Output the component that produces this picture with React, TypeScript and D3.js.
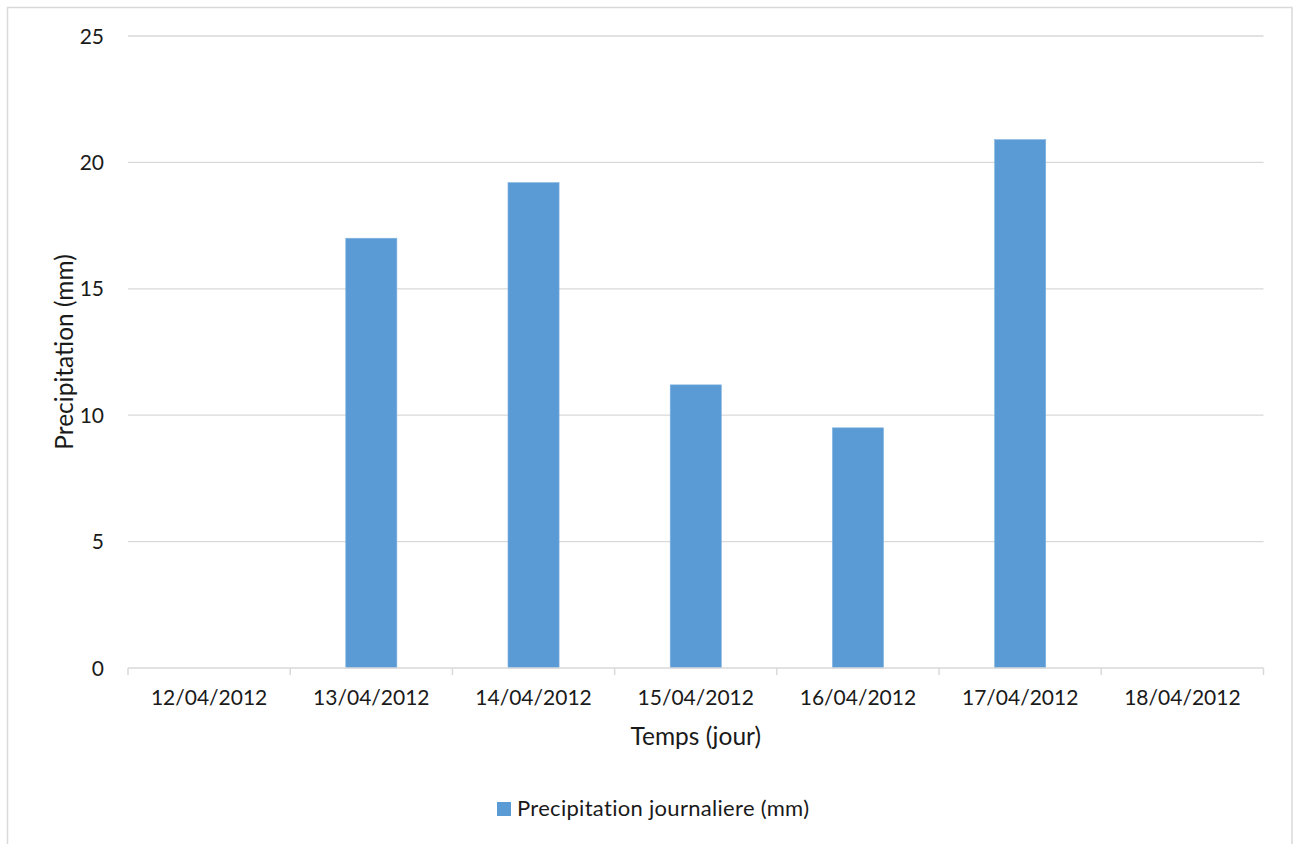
import React from "react";
import * as d3 from "d3";

const days = ["12/04/2012", "13/04/2012", "14/04/2012", "15/04/2012", "16/04/2012", "17/04/2012", "18/04/2012"];
const rainfall = [0, 17, 19.2, 11.2, 9.5, 20.9, 0];
const yTicks = [0, 5, 10, 15, 20, 25];
const seriesName = "Precipitation journaliere (mm)";

const W = 1298;
const H = 844;
const FONT = "Lato, 'Open Sans', sans-serif";
const GRID = "#d9d9d9";
const BAR = "#5b9bd5";
const TEXT = "#1a1a1a";

export default function App() {
  const left = 128;
  const right = 1263.5;
  const top = 36;
  const bottom = 668;

  const x = d3.scaleBand<string>().domain(days).range([left, right]).paddingInner(0).paddingOuter(0);
  const y = d3.scaleLinear().domain([0, 25]).range([bottom, top]);
  const barW = x.bandwidth() * 0.315;

  const boundaries = days.map((d) => x(d) as number).concat([right]);

  return (
    <svg
      width={W}
      height={H}
      style={{ position: "absolute", left: 0, top: 0, background: "#fff" }}
      fontFamily={FONT}
    >
      <rect x={7.5} y={7.5} width={1284.5} height={H + 10} fill="#fff" stroke={GRID} strokeWidth={1.5} />

      {yTicks.map((t) => (
        <g key={t}>
          {t > 0 && <line x1={left} x2={right} y1={y(t)} y2={y(t)} stroke={GRID} strokeWidth={1.3} />}
          <text x={104} y={y(t) + 7.5} textAnchor="end" fontSize={21} fill={TEXT}>
            {t}
          </text>
        </g>
      ))}

      {days.map((d, i) => {
        const v = rainfall[i];
        if (v <= 0) return null;
        const cx = (x(d) as number) + x.bandwidth() / 2;
        return (
          <rect
            key={d}
            x={cx - barW / 2}
            y={y(v)}
            width={barW}
            height={y(0) - y(v)}
            fill={BAR}
            stroke="#7fb1e0"
            strokeWidth={0.6}
          />
        );
      })}

      <line x1={left} x2={right} y1={bottom} y2={bottom} stroke={GRID} strokeWidth={1.5} />
      {boundaries.map((bx, i) => (
        <line key={i} x1={bx} x2={bx} y1={bottom} y2={bottom + 7} stroke={GRID} strokeWidth={1.5} />
      ))}

      {days.map((d) => (
        <text
          key={d}
          x={(x(d) as number) + x.bandwidth() / 2}
          y={705}
          textAnchor="middle"
          fontSize={21}
          fill={TEXT}
        >
          {d}
        </text>
      ))}

      <text x={(left + right) / 2} y={745} textAnchor="middle" fontSize={24.5} fill={TEXT}>
        Temps (jour)
      </text>
      <text
        transform={`translate(73, ${(top + bottom) / 2}) rotate(-90)`}
        textAnchor="middle"
        fontSize={24.5}
        fill={TEXT}
      >
        Precipitation (mm)
      </text>

      <rect x={497} y={802} width={14} height={14} fill={BAR} />
      <text x={517} y={816} fontSize={22} letterSpacing={0.3} fill={TEXT}>
        {seriesName}
      </text>
    </svg>
  );
}
